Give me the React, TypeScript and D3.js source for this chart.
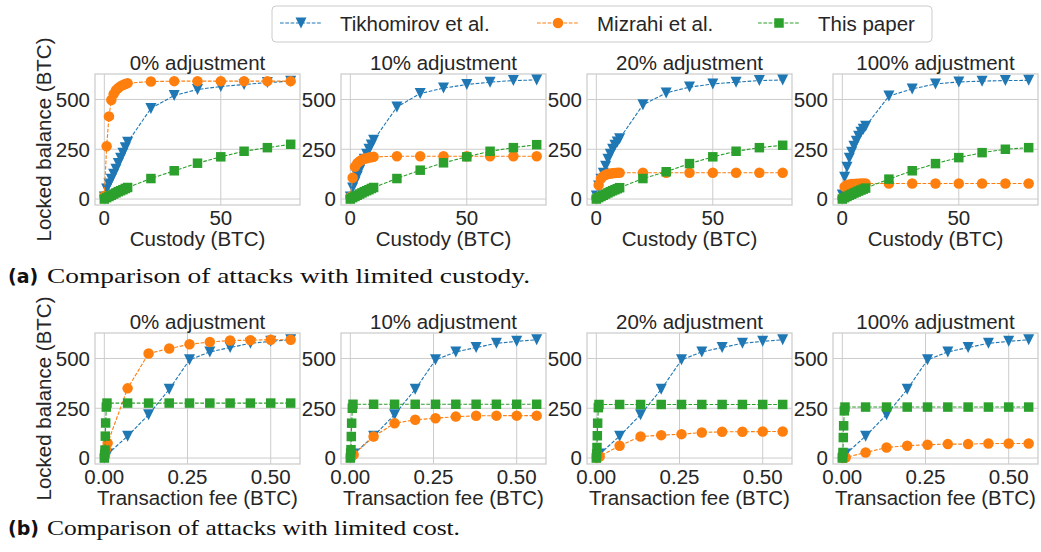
import React, { useEffect, useRef } from 'react'
import * as d3 from 'd3'

const seriesNames = ['Tikhomirov et al.', 'Mizrahi et al.', 'This paper']
const seriesColors = ['#1f77b4', '#ff7f0e', '#2ca02c']
const seriesMarkers = ['v', 'o', 's']
const titles = ['0% adjustment', '10% adjustment', '20% adjustment', '100% adjustment']

// (a) limited custody
const custody = [0, 1, 2, 3, 4, 5, 6, 7, 8, 9, 10, 20, 30, 40, 50, 60, 70, 80]
const tikhCustody = [
  [10, 50, 75, 100, 125, 150, 178, 205, 230, 258, 285, 455, 520, 550, 565, 575, 585, 592],
  [10, 55, 85, 115, 145, 175, 200, 225, 250, 272, 295, 462, 530, 557, 575, 587, 595, 598],
  [15, 65, 100, 130, 165, 200, 225, 250, 270, 287, 303, 473, 533, 562, 578, 587, 595, 598],
  [20, 110, 160, 205, 235, 265, 290, 315, 335, 350, 365, 517, 553, 578, 588, 592, 595, 596],
]
const mizCustody = [
  [15, 265, 415, 497, 527, 546, 558, 567, 573, 578, 582, 590, 592, 592, 592, 592, 592, 592],
  [10, 107, 162, 180, 190, 197, 202, 205, 208, 210, 212, 215, 215, 215, 215, 215, 215, 215],
  [5, 70, 103, 115, 122, 126, 128, 130, 131, 132, 132, 132, 132, 132, 132, 132, 132, 132],
  [5, 62, 70, 73, 75, 76, 77, 77, 78, 78, 78, 78, 78, 78, 78, 78, 78, 78],
]
const oursCustody = [
  [0, 7, 13, 19, 25, 31, 37, 42, 47, 53, 58, 103, 142, 180, 212, 240, 258, 275],
  [0, 7, 13, 19, 25, 31, 37, 42, 47, 53, 58, 103, 145, 182, 212, 240, 258, 273],
  [0, 7, 13, 19, 25, 31, 37, 42, 47, 52, 57, 103, 137, 178, 212, 240, 258, 270],
  [0, 7, 13, 19, 24, 30, 35, 40, 45, 50, 55, 100, 142, 178, 208, 233, 250, 258],
]

// (b) limited cost
const feeTikh = [0.01, 0.07, 0.133, 0.195, 0.256, 0.317, 0.378, 0.439, 0.5, 0.56]
const tikhFee = [
  [20, 110, 218, 345, 493, 533, 555, 576, 586, 594],
  [20, 110, 218, 345, 493, 533, 555, 576, 586, 594],
  [20, 110, 218, 345, 493, 533, 555, 576, 586, 594],
  [20, 110, 218, 345, 493, 533, 555, 576, 586, 594],
]
const feeMiz = [0.002, 0.005, 0.01, 0.07, 0.133, 0.195, 0.256, 0.317, 0.378, 0.439, 0.5, 0.56]
const mizFee = [
  [15, 45, 75, 350, 525, 550, 571, 583, 590, 592, 594, 594],
  [5, 10, 17, 108, 175, 192, 200, 208, 212, 213, 213, 213],
  [3, 5, 8, 62, 108, 115, 120, 128, 132, 132, 133, 133],
  [1, 2, 3, 28, 53, 62, 67, 70, 70, 73, 73, 73],
]
const feeOurs = [0, 0.001, 0.002, 0.003, 0.004, 0.006, 0.008, 0.07, 0.133, 0.195, 0.256, 0.317, 0.378, 0.439, 0.5, 0.56]
const oursFee = [
  [0, 18, 40, 110, 176, 256, 276, 276, 276, 276, 276, 276, 276, 276, 276, 276],
  [0, 25, 42, 108, 175, 250, 270, 270, 270, 270, 270, 270, 270, 270, 270, 270],
  [0, 20, 53, 112, 175, 253, 269, 269, 269, 269, 269, 269, 269, 269, 269, 269],
  [0, 5, 28, 103, 162, 237, 256, 256, 256, 256, 256, 256, 256, 256, 256, 256],
]

const yTicks = [0, 250, 500]
const custodyTicks = [0, 50]
const feeTicks = [0, 0.25, 0.5]

const sans = '"Liberation Sans", Arial, sans-serif'
const ink = '#262626'
const grid = '#cccccc'

function markerPath(kind: string, s: number) {
  const h = s / 2
  if (kind === 'v') return `M${-h},${-h}L${h},${-h}L0,${h}Z`
  if (kind === 's') return `M${-h},${-h}H${h}V${h}H${-h}Z`
  return d3.symbol(d3.symbolCircle, Math.PI * h * h)()
}
const markerSize = [11, 10.5, 9.5]

const pad = (lo: number, hi: number) => [lo - (hi - lo) * 0.05, hi + (hi - lo) * 0.05]

export default function App() {
  const ref = useRef<SVGSVGElement>(null)

  useEffect(() => {
    const svg = d3.select(ref.current)
    svg.selectAll('*').remove()

    const lefts = [95, 341, 587, 833]
    const pw = 205
    const ph = 131
    const yDomain = pad(0, 598)

    const rows = [
      {
        top: 74, xs: [custody, custody, custody], ys: [tikhCustody, mizCustody, oursCustody],
        xDomain: pad(0, 80), ticks: custodyTicks, fmt: d3.format('d'), label: 'Custody (BTC)',
      },
      {
        top: 333, xs: [feeTikh, feeMiz, feeOurs], ys: [tikhFee, mizFee, oursFee],
        xDomain: pad(0, 0.56), ticks: feeTicks, fmt: d3.format('.2f'), label: 'Transaction fee (BTC)',
      },
    ]

    rows.forEach(row => {
      const y = d3.scaleLinear().domain(yDomain).range([row.top + ph, row.top])

      svg.append('text')
        .attr('transform', `translate(44,${row.top + ph / 2}) rotate(-90)`)
        .attr('text-anchor', 'middle').attr('dy', '0.35em')
        .attr('font-family', sans).attr('font-size', 20.5).attr('fill', ink)
        .text('Locked balance (BTC)')

      lefts.forEach((left, p) => {
        const x = d3.scaleLinear().domain(row.xDomain).range([left, left + pw])
        const g = svg.append('g')

        // grid
        g.selectAll('.gx').data(row.ticks).enter().append('line')
          .attr('x1', d => x(d)).attr('x2', d => x(d))
          .attr('y1', row.top).attr('y2', row.top + ph)
          .attr('stroke', grid).attr('stroke-width', 1)
        g.selectAll('.gy').data(yTicks).enter().append('line')
          .attr('x1', left).attr('x2', left + pw)
          .attr('y1', d => y(d)).attr('y2', d => y(d))
          .attr('stroke', grid).attr('stroke-width', 1)
        g.append('rect')
          .attr('x', left).attr('y', row.top).attr('width', pw).attr('height', ph)
          .attr('fill', 'none').attr('stroke', grid).attr('stroke-width', 1.25)

        // tick labels
        g.selectAll('.ty').data(yTicks).enter().append('text')
          .attr('x', left - 5).attr('y', d => y(d)).attr('dy', '0.36em')
          .attr('text-anchor', 'end')
          .attr('font-family', sans).attr('font-size', 20.5).attr('fill', ink)
          .text(d => String(d))
        g.selectAll('.tx').data(row.ticks).enter().append('text')
          .attr('x', d => x(d)).attr('y', row.top + ph + 20)
          .attr('text-anchor', 'middle')
          .attr('font-family', sans).attr('font-size', 20.5).attr('fill', ink)
          .text(d => row.fmt(d))

        g.append('text')
          .attr('x', left + pw / 2).attr('y', row.top + ph + 41)
          .attr('text-anchor', 'middle')
          .attr('font-family', sans).attr('font-size', 20.5).attr('fill', ink)
          .text(row.label)
        g.append('text')
          .attr('x', left + pw / 2).attr('y', row.top - 4)
          .attr('text-anchor', 'middle')
          .attr('font-family', sans).attr('font-size', 20.5).attr('fill', ink)
          .text(titles[p])

        // series
        seriesNames.forEach((_, s) => {
          const xs = row.xs[s]
          const vals = row.ys[s][p]
          const pts = xs.map((v, i) => [x(v), y(vals[i])] as [number, number])
          g.append('path')
            .attr('d', d3.line()(pts))
            .attr('fill', 'none').attr('stroke', seriesColors[s])
            .attr('stroke-width', 1.1).attr('stroke-dasharray', '3.7,1.6')
          g.selectAll(`.m${s}`).data(pts).enter().append('path')
            .attr('d', markerPath(seriesMarkers[s], markerSize[s]))
            .attr('transform', d => `translate(${d[0]},${d[1]})`)
            .attr('fill', seriesColors[s])
        })
      })
    })

    // legend
    const lg = svg.append('g')
    lg.append('rect')
      .attr('x', 272).attr('y', 6).attr('width', 660).attr('height', 36).attr('rx', 4)
      .attr('fill', 'white').attr('stroke', grid).attr('stroke-width', 1)
    const lineStarts = [280, 537, 758]
    seriesNames.forEach((name, s) => {
      const x0 = lineStarts[s]
      lg.append('line')
        .attr('x1', x0).attr('x2', x0 + 42).attr('y1', 23).attr('y2', 23)
        .attr('stroke', seriesColors[s]).attr('stroke-width', 1.1).attr('stroke-dasharray', '3.7,1.6')
      lg.append('path')
        .attr('d', markerPath(seriesMarkers[s], markerSize[s]))
        .attr('transform', `translate(${x0 + 21},23)`)
        .attr('fill', seriesColors[s])
      lg.append('text')
        .attr('x', x0 + 60).attr('y', 30.5)
        .attr('font-family', sans).attr('font-size', 20.5).attr('fill', ink)
        .text(name)
    })

    // captions
    const captions = [
      { y: 283, tag: '(a)', text: 'Comparison of attacks with limited custody.', len: 483 },
      { y: 535, tag: '(b)', text: 'Comparison of attacks with limited cost.', len: 413 },
    ]
    captions.forEach(c => {
      svg.append('text')
        .attr('x', 8).attr('y', c.y)
        .attr('font-family', '"DejaVu Sans", sans-serif').attr('font-weight', 'bold')
        .attr('font-size', 19).attr('fill', '#111')
        .text(c.tag)
      svg.append('text')
        .attr('x', 47).attr('y', c.y)
        .attr('font-family', '"Liberation Serif", "Times New Roman", serif')
        .attr('font-size', 21).attr('fill', '#111')
        .attr('textLength', c.len).attr('lengthAdjust', 'spacingAndGlyphs')
        .text(c.text)
    })
  }, [])

  return (
    <div style={{ position: 'absolute', left: 0, top: 0 }}>
      <svg ref={ref} width={1041} height={552} style={{ display: 'block', background: 'white' }} />
    </div>
  )
}
